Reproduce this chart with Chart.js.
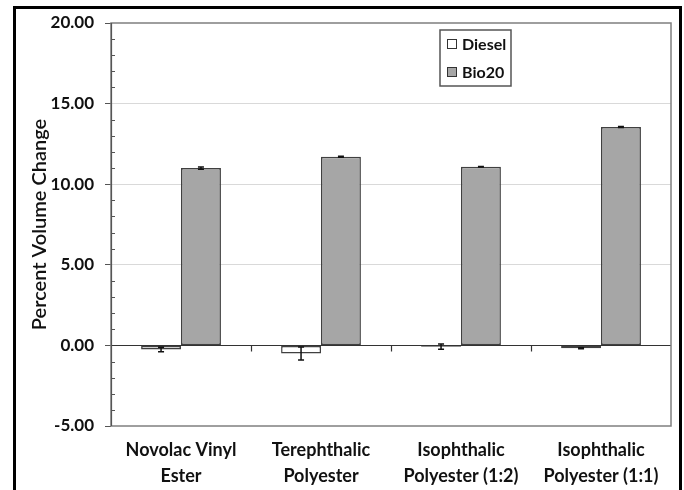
<!DOCTYPE html>
<html>
<head>
<meta charset="utf-8">
<script src="https://cdn.jsdelivr.net/npm/chart.js@4.4.1/dist/chart.umd.min.js"></script>
<style>
  html, body { margin: 0; padding: 0; background: #fff; }
  #wrap { width: 684px; height: 490px; position: relative; }
</style>
</head>
<body>
<div id="wrap"><canvas id="c" width="684" height="490"></canvas></div>
<script>
// Resin samples and their volume change after immersion
const categories = [
  ['Novolac Vinyl', 'Ester'],
  ['Terephthalic', 'Polyester'],
  ['Isophthalic', 'Polyester (1:2)'],
  ['Isophthalic', 'Polyester (1:1)']
];
const seriesNames = ['Diesel', 'Bio20'];
const dieselValues = [-0.25, -0.50, -0.08, -0.18];
const dieselErrors = [0.14, 0.40, 0.16, 0.03];
const bio20Values = [11.0, 11.7, 11.08, 13.55];
const bio20Errors = [0.07, 0.03, 0.02, 0.03];
const yTicks = [-5, 0, 5, 10, 15, 20];

const FONT = "Lato, 'Open Sans', sans-serif";
const errorSets = [dieselErrors, bio20Errors];

// Draws the frame, axis line at zero, minor ticks, error bars and legend
const decorations = {
  id: 'decorations',
  beforeDatasetsDraw(chart) {
    const { ctx, chartArea: a, scales: { y } } = chart;
    ctx.save();
    // minor ticks on the inside of the value axis
    ctx.strokeStyle = '#555';
    ctx.lineWidth = 1;
    for (let v = yTicks[0]; v <= yTicks[yTicks.length - 1]; v += 1) {
      if (yTicks.includes(v)) continue;
      const py = Math.round(y.getPixelForValue(v)) + 0.5;
      ctx.beginPath();
      ctx.moveTo(a.left, py);
      ctx.lineTo(a.left + 4, py);
      ctx.stroke();
    }
    ctx.restore();
  },
  afterDatasetsDraw(chart) {
    const { ctx, chartArea: a, scales: { x, y } } = chart;
    ctx.save();
    // horizontal axis line at zero with category boundary ticks
    const y0 = Math.round(y.getPixelForValue(0)) + 0.5;
    ctx.strokeStyle = '#333';
    ctx.lineWidth = 1.2;
    ctx.beginPath();
    ctx.moveTo(a.left, y0);
    ctx.lineTo(a.right, y0);
    ctx.stroke();
    const n = categories.length;
    for (let i = 1; i < n; i++) {
      const px = Math.round((x.getPixelForValue(i - 1) + x.getPixelForValue(i)) / 2) + 0.5;
      ctx.beginPath();
      ctx.moveTo(px, y0);
      ctx.lineTo(px, y0 + 6);
      ctx.stroke();
    }
    // error bars
    ctx.strokeStyle = '#111';
    ctx.lineWidth = 1.5;
    chart.data.datasets.forEach((ds, di) => {
      const meta = chart.getDatasetMeta(di);
      meta.data.forEach((bar, i) => {
        const v = ds.data[i];
        const e = errorSets[di][i];
        const cx = bar.x;
        const top = y.getPixelForValue(v + e);
        const bot = y.getPixelForValue(v - e);
        ctx.beginPath();
        ctx.moveTo(cx, top); ctx.lineTo(cx, bot);
        ctx.moveTo(cx - 3, top); ctx.lineTo(cx + 3, top);
        ctx.moveTo(cx - 3, bot); ctx.lineTo(cx + 3, bot);
        ctx.stroke();
      });
    });
    // plot area border
    ctx.strokeStyle = '#7f7f7f';
    ctx.lineWidth = 1.5;
    ctx.strokeRect(a.left, a.top, a.right - a.left, a.bottom - a.top);
    // value axis line
    ctx.strokeStyle = '#555';
    ctx.lineWidth = 1.2;
    ctx.beginPath();
    ctx.moveTo(a.left + 0.5, a.top);
    ctx.lineTo(a.left + 0.5, a.bottom);
    ctx.stroke();

    // legend
    const lx = 440, ly = 30, lw = 71, lh = 56;
    ctx.fillStyle = '#fff';
    ctx.fillRect(lx, ly, lw, lh);
    ctx.strokeStyle = '#555';
    ctx.lineWidth = 1.5;
    ctx.strokeRect(lx, ly, lw, lh);
    ctx.font = 'bold 16px ' + FONT;
    ctx.textBaseline = 'middle';
    chart.data.datasets.forEach((ds, di) => {
      const ry = ly + 14 + di * 28;
      ctx.fillStyle = ds.backgroundColor;
      ctx.fillRect(lx + 7, ry - 5, 10, 10);
      ctx.strokeStyle = '#333';
      ctx.lineWidth = 1;
      ctx.strokeRect(lx + 7.5, ry - 4.5, 9, 9);
      ctx.fillStyle = '#111';
      ctx.fillText(ds.label, lx + 22, ry + 1);
    });

    // outer frame
    ctx.strokeStyle = '#000';
    ctx.lineWidth = 3;
    ctx.strokeRect(14.5, 7.5, 666, 500);
    ctx.restore();
  }
};

new Chart(document.getElementById('c'), {
  type: 'bar',
  data: {
    labels: categories,
    datasets: [
      {
        label: seriesNames[0],
        data: dieselValues,
        backgroundColor: '#ffffff',
        borderColor: '#404040',
        borderWidth: 1.5,
        borderSkipped: false
      },
      {
        label: seriesNames[1],
        data: bio20Values,
        backgroundColor: '#a6a6a6',
        borderColor: '#404040',
        borderWidth: 1.5,
        borderSkipped: false
      }
    ]
  },
  options: {
    responsive: false,
    animation: false,
    devicePixelRatio: 1,
    layout: { padding: { left: 20, top: 23, right: 13, bottom: 0 } },
    datasets: { bar: { categoryPercentage: 0.57, barPercentage: 1.0 } },
    plugins: { legend: { display: false }, tooltip: { enabled: false } },
    scales: {
      x: {
        grid: { display: false, drawTicks: false },
        border: { display: false },
        ticks: {
          color: '#111',
          font: { family: FONT, size: 18, weight: 'bold', lineHeight: 1.45 },
          padding: 11,
          maxRotation: 0,
          autoSkip: false
        },
        afterFit(s) { s.height = 64; }
      },
      y: {
        min: -5,
        max: 20,
        afterBuildTicks(s) { s.ticks = yTicks.map(v => ({ value: v })); },
        ticks: {
          color: '#111',
          padding: 11,
          font: { family: FONT, size: 17, weight: 'bold' },
          callback: v => Number(v).toFixed(2)
        },
        grid: {
          color: ctx => (ctx.tick && (ctx.tick.value === 0 || ctx.tick.value === 20 || ctx.tick.value === -5)) ? 'rgba(0,0,0,0)' : '#d9d9d9',
          tickColor: '#555',
          tickLength: 6,
          lineWidth: 1
        },
        border: { display: false },
        title: {
          display: true,
          text: 'Percent Volume Change',
          color: '#111',
          font: { family: FONT, size: 20, weight: '600' },
          padding: { top: 8, bottom: 0 }
        },
        afterFit(s) { s.width = 91; }
      }
    }
  },
  plugins: [decorations]
});
</script>
</body>
</html>
